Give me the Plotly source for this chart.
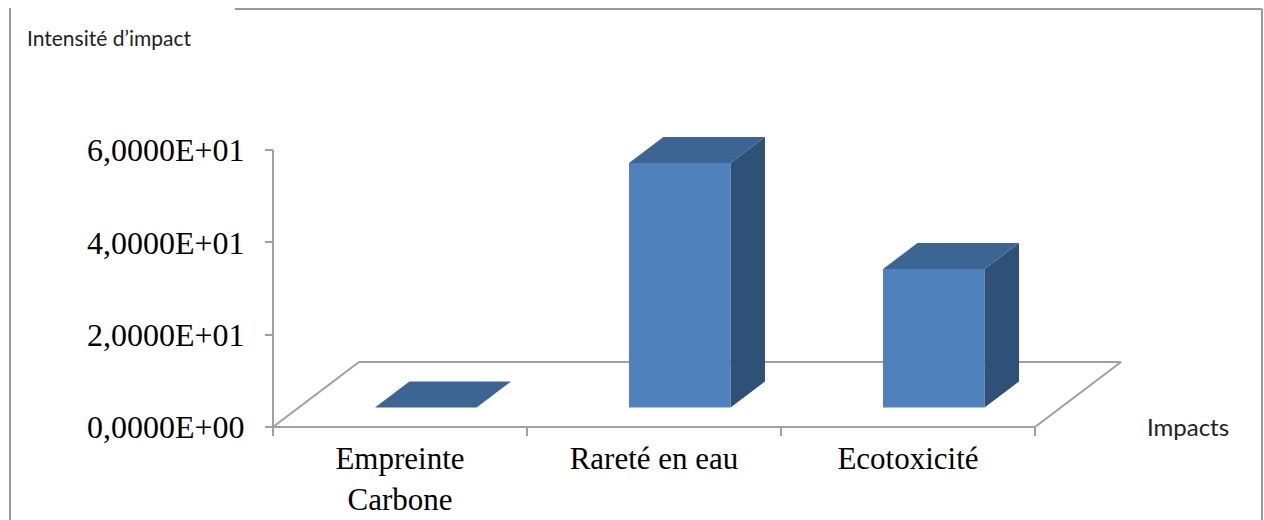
import plotly.graph_objects as go

# ---- data ----
categories = ["Empreinte<br>Carbone", "Rareté en eau", "Ecotoxicité"]
impact_values = [0.0, 53.0, 30.0]
y_tick_values = [0, 20, 40, 60]
y_tick_labels = ["0,0000E+00", "2,0000E+01", "4,0000E+01", "6,0000E+01"]
y_title = "Intensité d’impact"
x_title = "Impacts"

# ---- geometry of the pseudo-3D view ----
FIG_W, FIG_H = 1264, 520
AXIS_X_PX, AXIS_Y_PX = 273, 427      # pixel position of the front-left floor corner
PX_PER_CAT = 254                     # pixels per category slot
PX_PER_UNIT = 92.3 / 20              # pixels per value unit
FLOOR_DX = 86 / PX_PER_CAT           # depth offset of the floor (x units)
FLOOR_DY = 65 / PX_PER_UNIT          # depth offset of the floor (y units)
BAR_WIDTH = 0.40
DEPTH_FRONT, DEPTH_BACK = 0.3, 0.7   # bar position inside the floor depth

x_min = -0.5 - AXIS_X_PX / PX_PER_CAT
x_max = x_min + FIG_W / PX_PER_CAT
y_min = -(FIG_H - AXIS_Y_PX) / PX_PER_UNIT
y_max = AXIS_Y_PX / PX_PER_UNIT

FRONT_COLOR = "#4F81BD"
TOP_COLOR = "#3C6594"
SIDE_COLOR = "#2F5178"
LINE_COLOR = "#A0A0A0"
SERIF = "Liberation Serif"
SANS = "Lato"

n = len(categories)
centers = list(range(n))

fig = go.Figure()


def polygon(xs, ys, color, line_color=None, width=0):
    fig.add_trace(go.Scatter(
        x=xs + [xs[0]], y=ys + [ys[0]], mode="lines", fill="toself",
        fillcolor=color, line=dict(color=line_color or color, width=width),
        hoverinfo="skip", showlegend=False))


# floor of the plot
fx0, fx1 = -0.5, n - 0.5
fig.add_trace(go.Scatter(
    x=[fx0, fx1, fx1 + FLOOR_DX, fx0 + FLOOR_DX, fx0],
    y=[0, 0, FLOOR_DY, FLOOR_DY, 0],
    mode="lines", line=dict(color=LINE_COLOR, width=2),
    hoverinfo="skip", showlegend=False))

# 3D bars: front face, side face and top face
for c, v in zip(centers, impact_values):
    cx = c + DEPTH_FRONT * FLOOR_DX
    base = DEPTH_FRONT * FLOOR_DY
    xl, xr = cx - BAR_WIDTH / 2, cx + BAR_WIDTH / 2
    ddx = (DEPTH_BACK - DEPTH_FRONT) * FLOOR_DX
    ddy = (DEPTH_BACK - DEPTH_FRONT) * FLOOR_DY
    top = base + v
    if v > 0:
        polygon([xl, xr, xr, xl], [base, base, top, top], FRONT_COLOR)
        polygon([xr, xr + ddx, xr + ddx, xr],
                [base, base + ddy, top + ddy, top], SIDE_COLOR)
    polygon([xl, xr, xr + ddx, xl + ddx],
            [top, top, top + ddy, top + ddy], TOP_COLOR)

# vertical value axis line
fig.add_shape(type="line", xref="x", yref="y", x0=-0.5, x1=-0.5,
              y0=0, y1=max(y_tick_values),
              line=dict(color=LINE_COLOR, width=2))

# outer frame of the chart area
frame = dict(color="#9A9A9A", width=2)
fig.add_shape(type="line", xref="paper", yref="paper",
              x0=10 / FIG_W, x1=10 / FIG_W, y0=0, y1=1 - 8 / FIG_H, line=frame)
fig.add_shape(type="line", xref="paper", yref="paper",
              x0=235 / FIG_W, x1=1262 / FIG_W, y0=1 - 9 / FIG_H, y1=1 - 9 / FIG_H,
              line=frame)
fig.add_shape(type="line", xref="paper", yref="paper",
              x0=1262 / FIG_W, x1=1262 / FIG_W, y0=0, y1=1 - 9 / FIG_H, line=frame)

# axis titles
fig.add_annotation(text=y_title, xref="paper", yref="paper",
                   x=25 / FIG_W, y=1 - 38 / FIG_H, xanchor="left", yanchor="middle",
                   showarrow=False, font=dict(family=SANS, size=21, color="#222"))
fig.add_annotation(text=x_title, xref="paper", yref="paper",
                   x=1145 / FIG_W, y=1 - 426 / FIG_H, xanchor="left", yanchor="middle",
                   showarrow=False, font=dict(family=SANS, size=24, color="#222"))

fig.update_layout(
    width=FIG_W, height=FIG_H,
    margin=dict(l=0, r=0, t=0, b=0),
    paper_bgcolor="white", plot_bgcolor="white",
    showlegend=False,
    xaxis=dict(
        range=[x_min, x_max], domain=[0, 1], automargin=False,
        anchor="free", position=1 - AXIS_Y_PX / FIG_H,
        showgrid=False, zeroline=False, showline=False,
        tickmode="array", tickvals=centers, ticktext=categories,
        ticks="outside", ticklen=0, ticklabelstandoff=4,
        tickfont=dict(family=SERIF, size=31, color="black"),
        minor=dict(tickmode="array", tickvals=[c - 0.5 for c in centers] + [n - 0.5],
                   ticks="outside", ticklen=8, tickcolor=LINE_COLOR, tickwidth=2,
                   showgrid=False),
        fixedrange=True,
    ),
    yaxis=dict(
        range=[y_min, y_max], domain=[0, 1], automargin=False,
        anchor="free", position=AXIS_X_PX / FIG_W,
        showgrid=False, zeroline=False, showline=False,
        tickmode="array", tickvals=y_tick_values, ticktext=y_tick_labels,
        ticks="outside", ticklen=8, tickcolor=LINE_COLOR, tickwidth=2,
        ticklabelstandoff=14,
        tickfont=dict(family=SERIF, size=32, color="black"),
        fixedrange=True,
    ),
)

fig.write_html("out.html")
